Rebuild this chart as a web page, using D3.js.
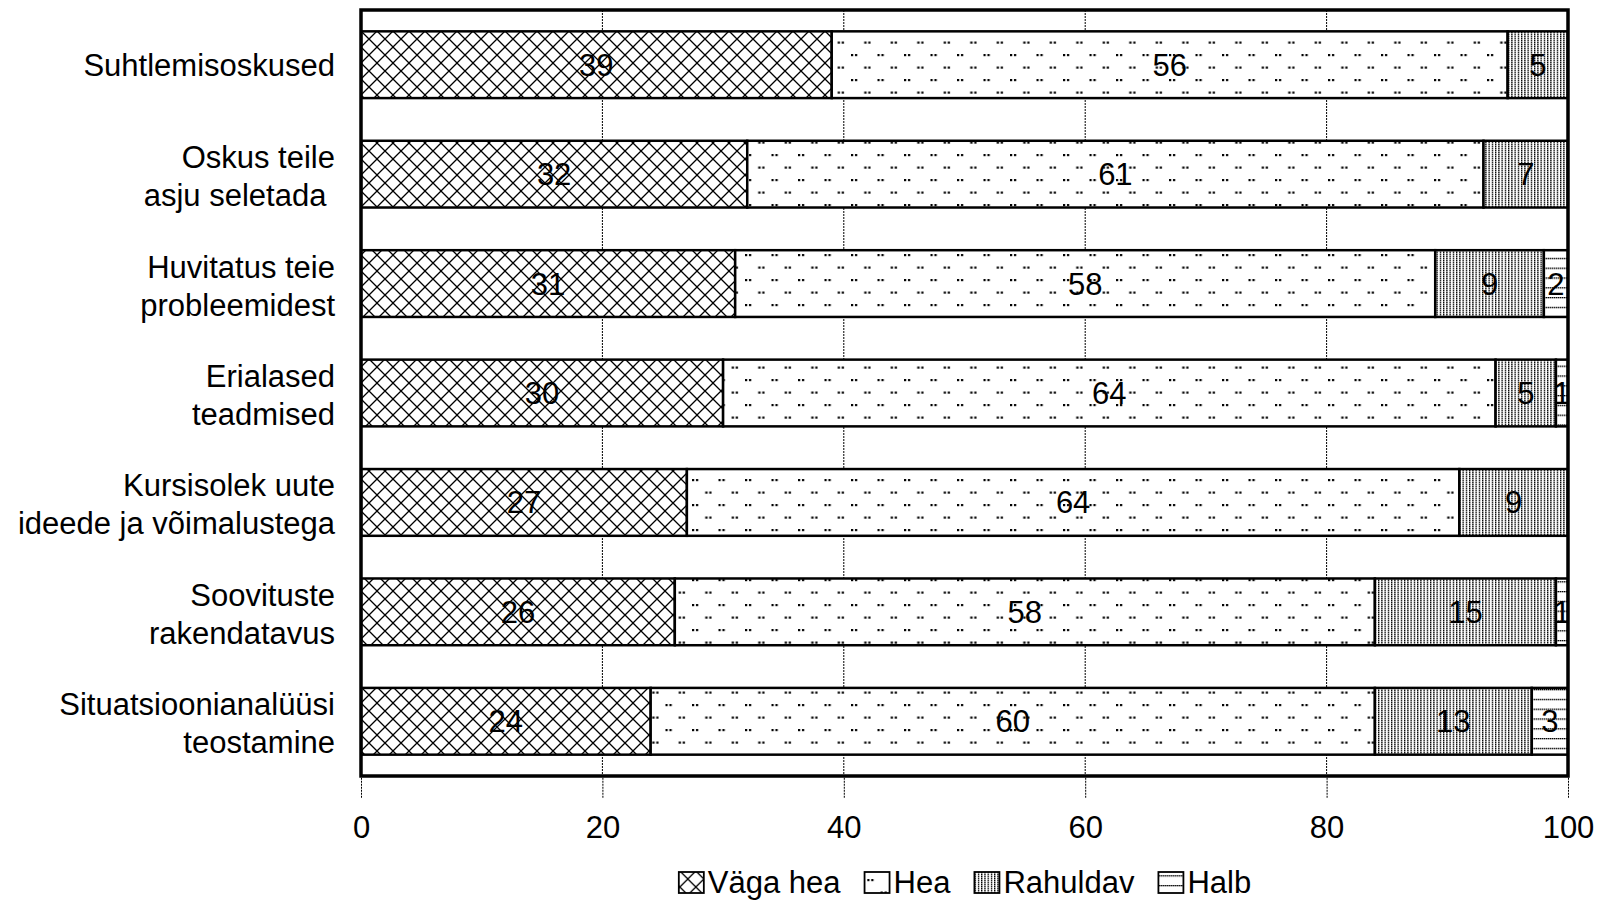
<!DOCTYPE html>
<html>
<head>
<meta charset="utf-8">
<script src="https://cdn.jsdelivr.net/npm/d3@7"></script>
<style>
  html, body { margin: 0; padding: 0; background: #fff; }
  svg { display: block; }
  text { font-family: "Liberation Sans", Arial, sans-serif; fill: #000; }
</style>
</head>
<body>
<svg id="chart" width="1606" height="902"></svg>
<script>
// ---- data ----
const categories = [
  ["Suhtlemisoskused"],
  ["Oskus teile", "asju seletada\u00a0"],
  ["Huvitatus teie", "probleemidest"],
  ["Erialased", "teadmised"],
  ["Kursisolek uute", "ideede ja võimalustega"],
  ["Soovituste", "rakendatavus"],
  ["Situatsioonianalüüsi", "teostamine"]
];
const seriesNames = ["Väga hea", "Hea", "Rahuldav", "Halb"];
const vagaHea  = [39, 32, 31, 30, 27, 26, 24];
const hea      = [56, 61, 58, 64, 64, 58, 60];
const rahuldav = [5, 7, 9, 5, 9, 15, 13];
const halb     = [0, 0, 2, 1, 0, 1, 3];
const xTicks   = [0, 20, 40, 60, 80, 100];

// ---- layout ----
const svg = d3.select("#chart");
const W = 1606, H = 902;
const plot = { left: 361, right: 1568, top: 10, bottom: 776 };
const FS = 31;

svg.append("rect").attr("width", W).attr("height", H).attr("fill", "#fff");

// ---- patterns ----
const defs = svg.append("defs");
const cs = 16;
const pCross = defs.append("pattern").attr("id", "pCross")
  .attr("patternUnits", "userSpaceOnUse").attr("width", cs).attr("height", cs)
  .attr("x", 361).attr("y", 31);
pCross.append("rect").attr("width", cs).attr("height", cs).attr("fill", "#fff");
pCross.append("path").attr("d", `M0,0L${cs},${cs}M${cs},0L0,${cs}M-1,1L1,-1M${cs-1},${cs+1}L${cs+1},${cs-1}M-1,${cs-1}L1,${cs+1}M${cs-1},-1L${cs+1},1`)
  .attr("stroke", "#000").attr("stroke-width", 1.3).attr("fill", "none");

const pDots = defs.append("pattern").attr("id", "pDots")
  .attr("patternUnits", "userSpaceOnUse").attr("width", 26.5).attr("height", 25)
  .attr("x", 3).attr("y", 4);
pDots.append("rect").attr("width", 26.5).attr("height", 25).attr("fill", "#fff");
[[0, 0], [4, 0], [13.25, 12.5], [17.25, 12.5]].forEach(([dx, dy]) => {
  pDots.append("rect").attr("x", dx).attr("y", dy).attr("width", 2.2).attr("height", 2.2).attr("fill", "#000");
});

const pVert = defs.append("pattern").attr("id", "pVert")
  .attr("patternUnits", "userSpaceOnUse").attr("width", 3.25).attr("height", 2);
pVert.append("rect").attr("width", 3.25).attr("height", 2).attr("fill", "#fff");
pVert.append("rect").attr("width", 1.3).attr("height", 1.5).attr("fill", "#000");

const pHor = defs.append("pattern").attr("id", "pHor")
  .attr("patternUnits", "userSpaceOnUse").attr("width", 2).attr("height", 9.8).attr("y", 3);
pHor.append("rect").attr("width", 2).attr("height", 9.8).attr("fill", "#fff");
pHor.append("rect").attr("width", 1.5).attr("height", 1.3).attr("fill", "#000");

const fills = ["url(#pCross)", "url(#pDots)", "url(#pVert)", "url(#pHor)"];

// ---- scales ----
const x = d3.scaleLinear().domain([0, 100]).range([plot.left, plot.right]);
const y = d3.scaleBand().domain(d3.range(categories.length))
  .range([plot.top, plot.bottom]).paddingInner(0.39).paddingOuter(0.195);

// ---- gridlines ----
svg.append("g").selectAll("line").data(xTicks.slice(1, -1)).join("line")
  .attr("x1", d => x(d)).attr("x2", d => x(d))
  .attr("y1", plot.top).attr("y2", plot.bottom)
  .attr("stroke", "#000").attr("stroke-width", 1).attr("stroke-dasharray", "2,1");

// ---- stacked data ----
const rows = categories.map((c, i) => ({ i, v: [vagaHea[i], hea[i], rahuldav[i], halb[i]] }));
const segs = [];
rows.forEach(r => {
  let acc = 0;
  r.v.forEach((v, k) => {
    segs.push({ i: r.i, k, v, x0: acc, x1: acc + v });
    acc += v;
  });
});

defs.append("clipPath").attr("id", "plotClip").append("rect")
  .attr("x", plot.left).attr("y", plot.top)
  .attr("width", plot.right - plot.left).attr("height", plot.bottom - plot.top);

const gBars = svg.append("g").attr("clip-path", "url(#plotClip)");
gBars.selectAll("rect").data(segs.filter(s => s.v > 0)).join("rect")
  .attr("x", d => x(d.x0)).attr("width", d => x(d.x1) - x(d.x0))
  .attr("y", d => y(d.i)).attr("height", y.bandwidth())
  .attr("fill", d => fills[d.k])
  .attr("stroke", "#000").attr("stroke-width", 2.5);

const gVals = svg.append("g").attr("clip-path", "url(#plotClip)");
gVals.selectAll("text").data(segs.filter(s => s.v > 0)).join("text")
  .attr("x", d => x((d.x0 + d.x1) / 2))
  .attr("y", d => y(d.i) + y.bandwidth() / 2 + 11)
  .attr("text-anchor", "middle")
  .attr("font-size", FS)
  .text(d => d.v);

// ---- frame ----
svg.append("rect")
  .attr("x", plot.left).attr("y", plot.top)
  .attr("width", plot.right - plot.left).attr("height", plot.bottom - plot.top)
  .attr("fill", "none").attr("stroke", "#000").attr("stroke-width", 3.5);

// ---- x axis ----
const xAxis = d3.axisBottom(x).tickValues(xTicks).tickSize(20).tickPadding(18).tickFormat(d3.format("d"));
const gx = svg.append("g").attr("transform", `translate(0,${plot.bottom + 1.75})`).call(xAxis);
gx.select(".domain").remove();
gx.selectAll(".tick line").attr("stroke", "#000").attr("stroke-width", 1).attr("stroke-dasharray", "2,1");
gx.selectAll(".tick text").attr("font-size", FS).attr("font-family", "'Liberation Sans', Arial, sans-serif").attr("fill", "#000");

// ---- category labels ----
const gCat = svg.append("g");
categories.forEach((lines, i) => {
  const c = y(i) + y.bandwidth() / 2;
  const t = gCat.append("text").attr("text-anchor", "end").attr("font-size", FS);
  if (lines.length === 1) {
    t.append("tspan").attr("x", 335).attr("y", c + 11.5).text(lines[0]);
  } else {
    lines.forEach((ln, j) => {
      t.append("tspan").attr("x", 335).attr("y", c + 13 + (j === 0 ? -19 : 19)).text(ln);
    });
  }
});

// ---- legend ----
const gLeg = svg.append("g");
const boxW = 25, boxH = 21, boxGap = 4, itemGap = 24;
let lx = 0;
seriesNames.forEach((name, k) => {
  const g = gLeg.append("g");
  g.append("rect").attr("x", lx).attr("y", 872).attr("width", boxW).attr("height", boxH)
    .attr("fill", fills[k]).attr("stroke", "#000").attr("stroke-width", 1.8);
  const t = g.append("text").attr("x", lx + boxW + boxGap).attr("y", 893)
    .attr("font-size", FS).text(name);
  lx += boxW + boxGap + t.node().getComputedTextLength() + itemGap;
});
const legW = lx - itemGap;
gLeg.attr("transform", `translate(${965 - legW / 2},0)`);
</script>
</body>
</html>
